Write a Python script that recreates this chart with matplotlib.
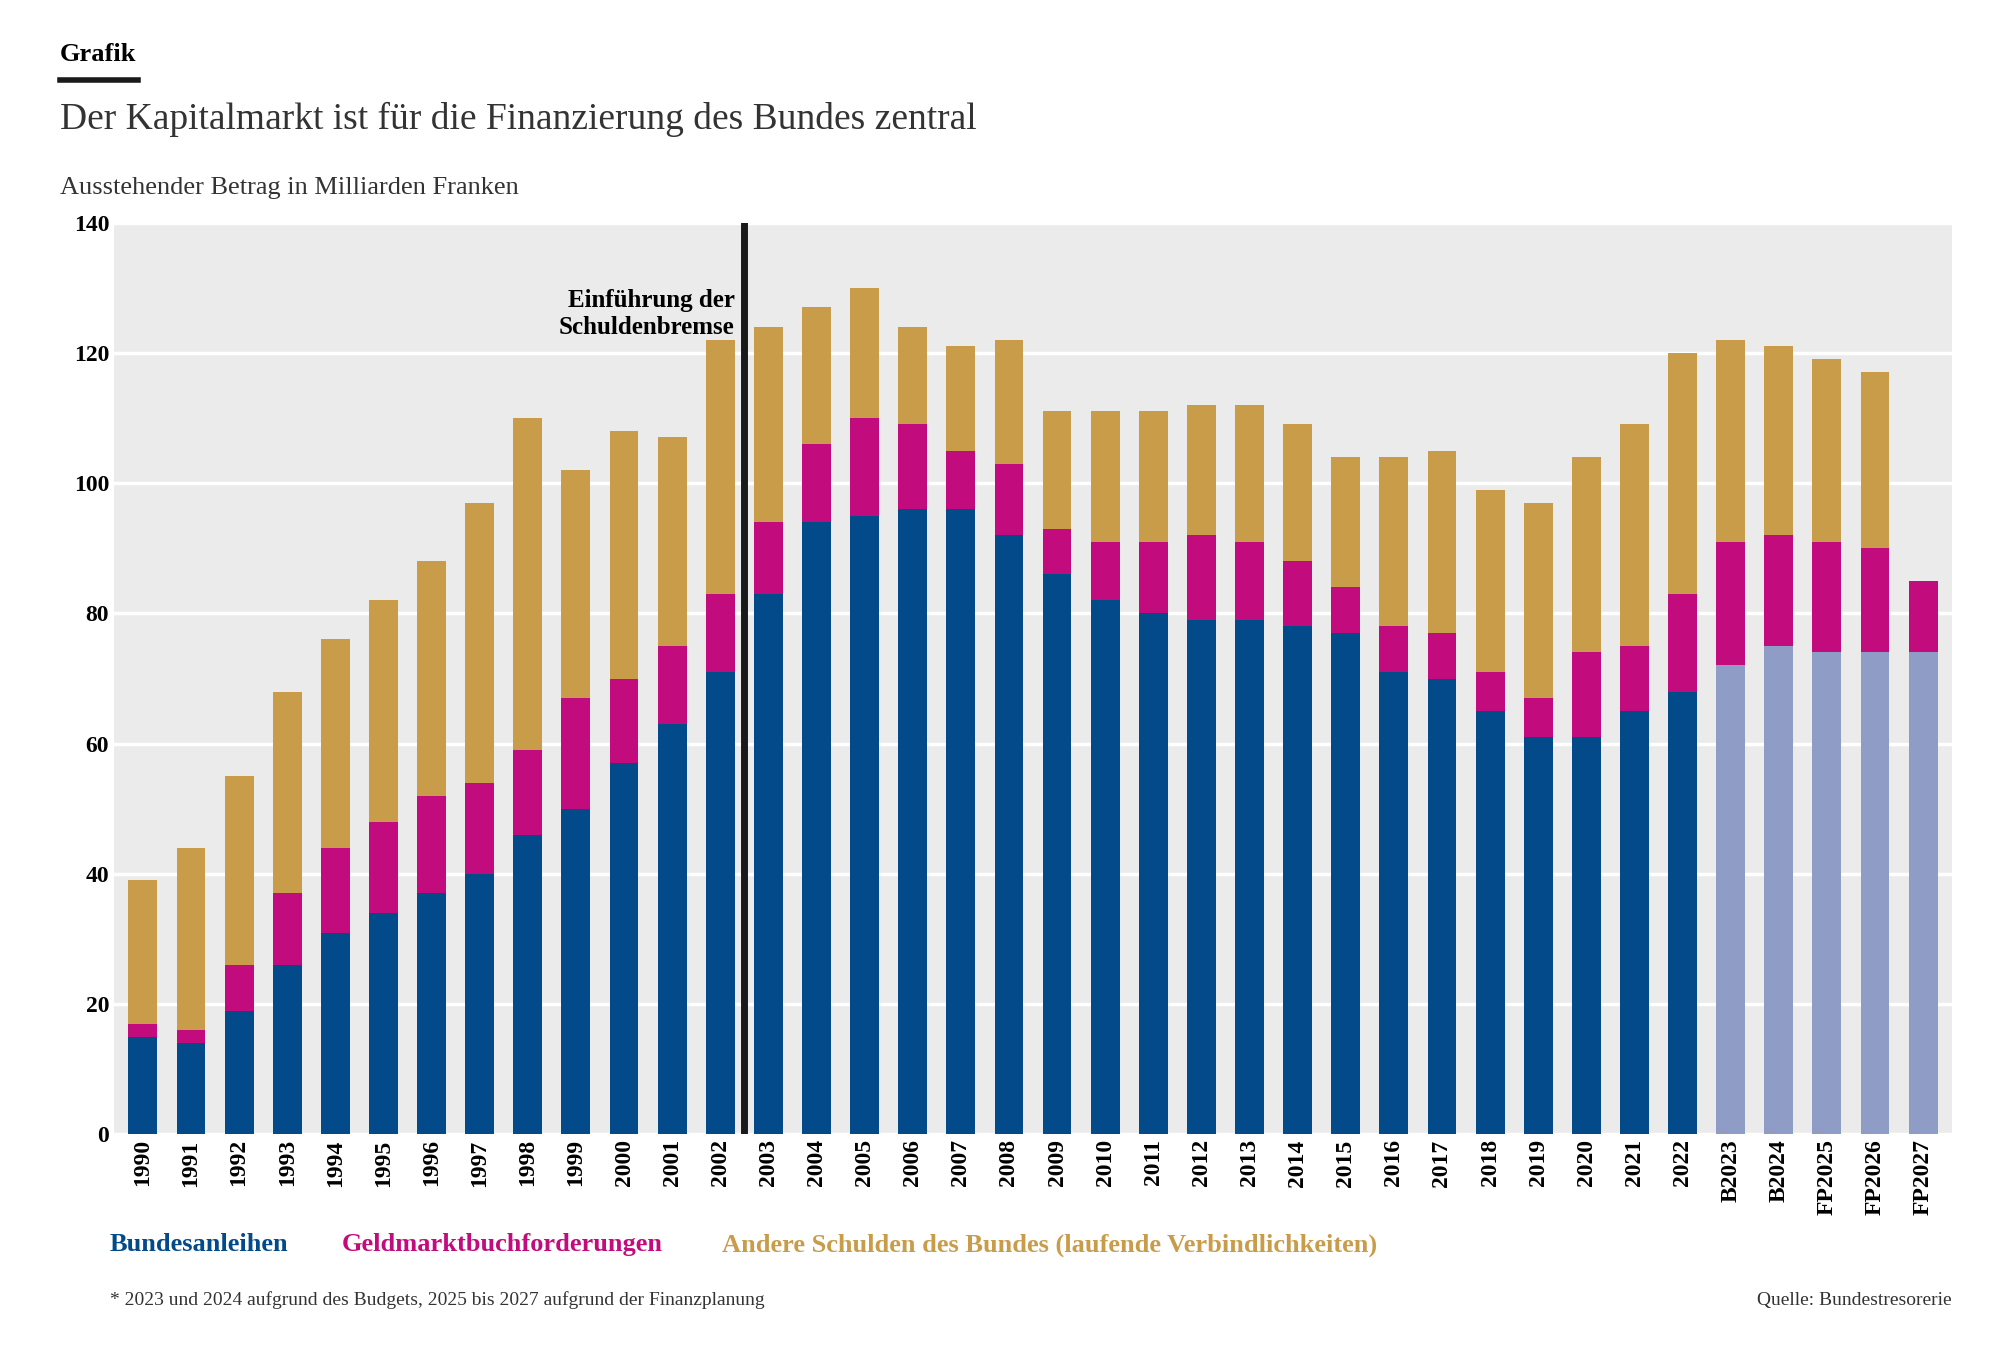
import matplotlib
matplotlib.use("Agg")
import matplotlib.pyplot as plt
import numpy as np

labels = [str(y) for y in range(1990, 2023)] + ["B2023", "B2024", "FP2025", "FP2026", "FP2027"]
bund = [15,14,19,26,31,34,37,40,46,50,57,63,71,83,94,95,96,96,92,86,82,80,79,79,78,77,71,70,65,61,61,65,68,72,75,74,74,74]
geld_top = [17,16,26,37,44,48,52,54,59,67,70,75,83,94,106,110,109,105,103,93,91,91,92,91,88,84,78,77,71,67,74,75,83,91,92,91,90,85]
total = [39,44,55,68,76,82,88,97,110,102,108,107,122,124,127,130,124,121,122,111,111,111,112,112,109,104,104,105,99,97,104,109,120,122,121,119,117,85]

geld = np.array(geld_top) - np.array(bund)
andere = np.array(total) - np.array(geld_top)

plt.rcParams['font.family'] = ['Liberation Serif', 'DejaVu Serif']
fig = plt.figure(figsize=(20, 13.57), dpi=100)
ax = fig.add_axes([0.057, 0.164, 0.919, 0.672])
ax.set_facecolor('#ebebeb')
x = np.arange(len(labels))
blue = ['#034a8a' if not l.startswith(('B', 'F')) else '#8f9cc6' for l in labels]
ax.bar(x, bund, width=0.6, color=blue, zorder=3)
ax.bar(x, geld, bottom=bund, width=0.6, color='#c20c7d', zorder=3)
ax.bar(x, andere, bottom=geld_top, width=0.6, color='#c99c4a', zorder=3)
ax.set_xlim(-0.6, len(labels) - 0.4)
ax.set_ylim(0, 140)
ax.set_yticks(range(0, 141, 20))
ax.grid(axis='y', color='white', linewidth=2.5, zorder=1)
for s in ax.spines.values():
    s.set_visible(False)
ax.tick_params(length=0, labelsize=17)
ax.set_xticks(x)
ax.set_xticklabels(labels, rotation=90, fontweight='bold')
for t in ax.get_yticklabels():
    t.set_fontweight('bold')
ax.axvline(12.5, color='#1a1a1a', linewidth=5, zorder=4)
ax.text(12.3, 126, "Einführung der\nSchuldenbremse", ha='right', va='center',
        fontsize=18, fontweight='bold', linespacing=1.2, zorder=5)

fig.text(0.03, 0.955, "Grafik", fontsize=19, fontweight='bold')
fig.add_artist(plt.Line2D([0.03, 0.069], [0.941, 0.941], color='#1a1a1a', linewidth=4))
fig.text(0.03, 0.905, "Der Kapitalmarkt ist für die Finanzierung des Bundes zentral", fontsize=27, color='#333333')
fig.text(0.03, 0.857, "Ausstehender Betrag in Milliarden Franken", fontsize=19, color='#333333')

fig.text(0.055, 0.078, "Bundesanleihen", fontsize=19, fontweight='bold', color='#034a8a')
fig.text(0.171, 0.078, "Geldmarktbuchforderungen", fontsize=19, fontweight='bold', color='#c20c7d')
fig.text(0.361, 0.078, "Andere Schulden des Bundes (laufende Verbindlichkeiten)", fontsize=19, fontweight='bold', color='#c99c4a')
fig.text(0.055, 0.038, "* 2023 und 2024 aufgrund des Budgets, 2025 bis 2027 aufgrund der Finanzplanung", fontsize=14, color='#333333')
fig.text(0.976, 0.038, "Quelle: Bundestresorerie", fontsize=14, color='#333333', ha='right')

fig.savefig("out.png", dpi=100, facecolor='white')
